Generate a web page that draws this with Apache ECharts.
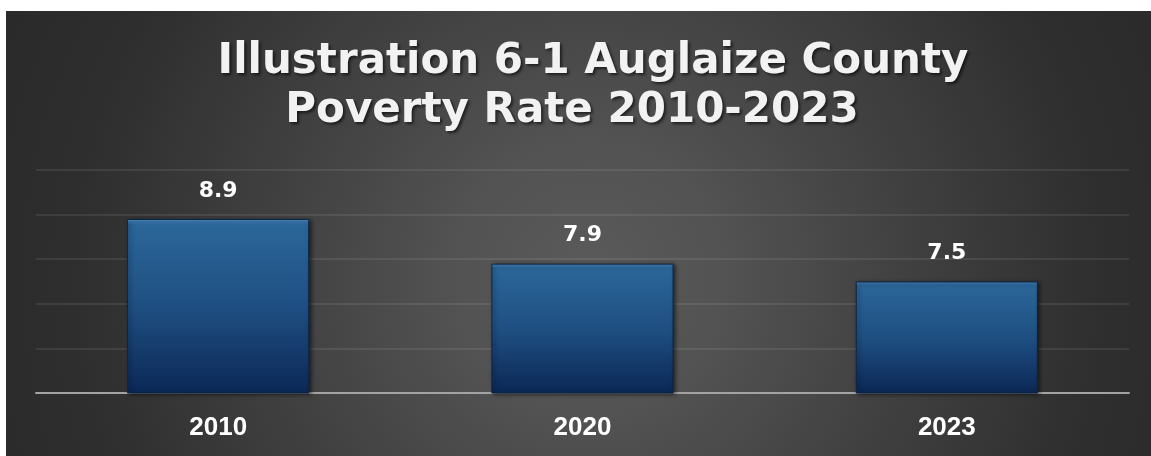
<!DOCTYPE html>
<html>
<head>
<meta charset="utf-8">
<script src="https://cdn.jsdelivr.net/npm/echarts@6/dist/echarts.min.js"></script>
<style>
  html, body { margin: 0; padding: 0; background: #ffffff; }
  #chart { position: absolute; left: 6px; top: 11px; width: 1145px; height: 445px; }
</style>
</head>
<body>
<div id="chart"></div>
<script>
// Poverty rate (%) by year
const years = ['2010', '2020', '2023'];
const povertyRate = [8.9, 7.9, 7.5];
const axisMin = 5;
const axisMax = 10;
const axisStep = 1;
const titleLines = ['Illustration 6-1 Auglaize County', 'Poverty Rate 2010-2023'];

const titleTextStyle = {
  fontFamily: 'DejaVu Sans',
  fontWeight: 'bold',
  fontSize: 42,
  lineHeight: 49,
  color: '#f2f2f2',
  textShadowColor: 'rgba(0,0,0,0.6)',
  textShadowBlur: 3,
  textShadowOffsetX: 2,
  textShadowOffsetY: 2
};

const chart = echarts.init(document.getElementById('chart'));

chart.setOption({
  backgroundColor: {
    type: 'radial', x: 0.51, y: 0.6, r: 1.45,
    colorStops: [
      { offset: 0, color: '#5a5a5a' },
      { offset: 0.2, color: '#535353' },
      { offset: 0.45, color: '#434343' },
      { offset: 0.8, color: '#2e2e2e' },
      { offset: 1, color: '#2a2a2a' }
    ]
  },
  title: [
    { text: titleLines[0], left: 582, top: 22, textAlign: 'center', textStyle: titleTextStyle },
    { text: titleLines[1], left: 561, top: 71, textAlign: 'center', textStyle: titleTextStyle }
  ],
  grid: { left: 30, right: 22, top: 159, bottom: 63 },
  xAxis: {
    type: 'category',
    data: years,
    axisLine: { show: true, lineStyle: { color: '#a3a3a3', width: 2 } },
    axisTick: { show: false },
    axisLabel: {
      margin: 22,
      color: '#ffffff',
      fontFamily: 'Liberation Sans',
      fontWeight: 'bold',
      fontSize: 26
    }
  },
  yAxis: {
    type: 'value',
    min: axisMin,
    max: axisMax,
    interval: axisStep,
    axisLine: { show: false },
    axisTick: { show: false },
    axisLabel: { show: false },
    splitLine: { show: true, lineStyle: { color: 'rgba(255,255,255,0.11)', width: 1.5 } }
  },
  series: [{
    type: 'bar',
    data: povertyRate,
    barCategoryGap: '50%',
    itemStyle: {
      color: {
        type: 'linear', x: 0, y: 0, x2: 0, y2: 1,
        colorStops: [
          { offset: 0, color: '#6aa6dc' },
          { offset: 0.015, color: '#3a78b0' },
          { offset: 0.035, color: '#2b6699' },
          { offset: 0.5, color: '#1f4f82' },
          { offset: 1, color: '#0b2856' }
        ]
      },
      borderColor: '#0c2444',
      borderWidth: 1,
      shadowColor: 'rgba(0,0,0,0.55)',
      shadowBlur: 4,
      shadowOffsetX: 2,
      shadowOffsetY: 1
    },
    label: {
      show: true,
      position: 'top',
      distance: 17,
      color: '#ffffff',
      fontFamily: 'DejaVu Sans',
      fontWeight: 'bold',
      fontSize: 22,
      formatter: p => p.value.toFixed(1)
    }
  }]
});
</script>
</body>
</html>
